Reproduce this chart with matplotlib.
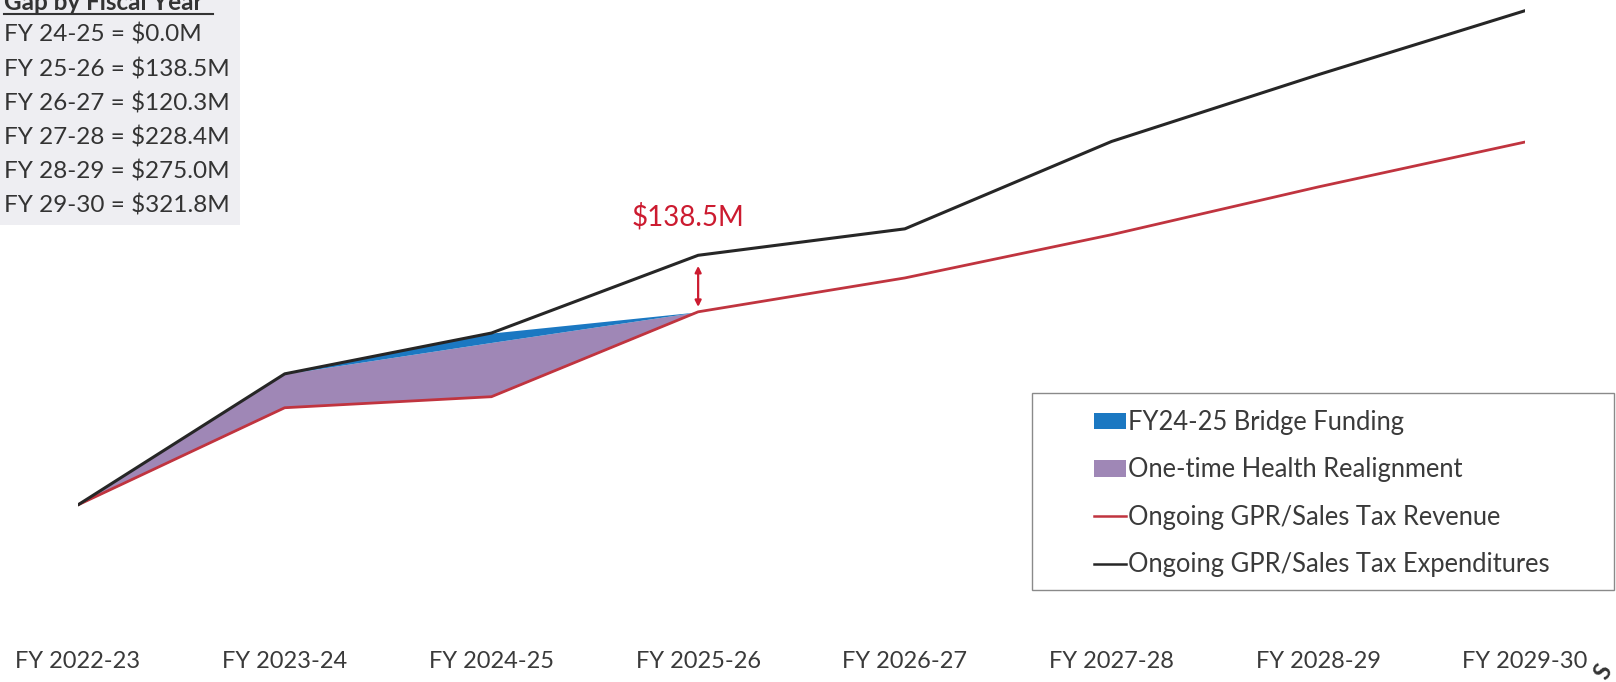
import numpy as np
import matplotlib.pyplot as plt
from matplotlib.patches import Patch, Rectangle
from matplotlib.lines import Line2D

# data ($M)
years = ['FY 2022-23', 'FY 2023-24', 'FY 2024-25', 'FY 2025-26',
         'FY 2026-27', 'FY 2027-28', 'FY 2028-29', 'FY 2029-30']
revenue = [1200, 1438, 1465, 1673, 1756, 1862, 1979, 2089]
expenditures = [1200, 1521, 1621, 1811.5, 1876.3, 2090.4, 2254, 2410.8]
# one-time sources stacked on revenue, FY 2022-23 .. FY 2025-26
health_realignment = [0, 83, 133, 0]
bridge_funding = [0, 0, 23, 0]
gap_labels = ['FY 24-25 = $0.0M', 'FY 25-26 = $138.5M', 'FY 26-27 = $120.3M',
              'FY 27-28 = $228.4M', 'FY 28-29 = $275.0M', 'FY 29-30 = $321.8M']

plt.rcParams['font.family'] = ['Lato', 'DejaVu Sans']

W, H = 1616, 682
fig = plt.figure(figsize=(W / 100, H / 100), dpi=100)
fig.patch.set_facecolor('white')

# axes placed so categories sit at x=78..1525 px
x0, x1 = 78, 1525
ax = fig.add_axes([x0 / W, 0, (x1 - x0) / W, 1])
ax.set_xlim(0, 7)
ax.set_ylim(766, 2437)
ax.axis('off')

x = np.arange(len(years))
n = len(health_realignment)
rev_part = np.array(revenue[:n])
health_top = rev_part + np.array(health_realignment)
bridge_top = health_top + np.array(bridge_funding)

purple = '#9f87b6'
blue = '#1b78c2'
red = '#c0343f'
black = '#262626'

ax.fill_between(x[:n], rev_part, health_top, color=purple, lw=0, zorder=1)
ax.fill_between(x[:n], health_top, bridge_top, color=blue, lw=0, zorder=1)
ax.plot(x, revenue, color=red, lw=2.0, zorder=3, solid_capstyle='round')
ax.plot(x, expenditures, color=black, lw=2.2, zorder=4, solid_capstyle='round')

# gap annotation at FY 2025-26
ann_red = '#cc1b30'
ax.annotate('', xy=(3, revenue[3] + 12), xytext=(3, expenditures[3] - 26),
            arrowprops=dict(arrowstyle='<|-|>', color=ann_red, lw=1.6,
                            mutation_scale=9, shrinkA=0, shrinkB=0))
ax.text(2.95, 1905, '$138.5M', color=ann_red, fontsize=20,
        ha='center', va='center')

# category labels
for i, lab in enumerate(years):
    fig.text((x0 + i * (x1 - x0) / 7) / W, 1 - 661 / H, lab, fontsize=17,
             color='#3a3a3a', ha='center', va='center')

# gap box, top-left
fig.patches.append(Rectangle((0, 1 - 225 / H), 240 / W, 225 / H,
                             transform=fig.transFigure, facecolor='#eeeef2',
                             edgecolor='none', zorder=0))
fig.text(4 / W, 1 - 10 / H, 'Gap by Fiscal Year', fontsize=17.5, fontweight='bold',
         color='#333333', ha='left', va='baseline')
fig.lines.append(Line2D([4 / W, 213 / W], [1 - 13.5 / H, 1 - 13.5 / H],
                        transform=fig.transFigure, color='#333333', lw=1.5))
for i, lab in enumerate(gap_labels):
    fig.text(4 / W, 1 - (35 + i * 34.2) / H, lab, fontsize=17.5, color='#333333',
             ha='left', va='center')

# legend box
fig.patches.append(Rectangle((1032 / W, 1 - 590 / H), (1614 - 1032) / W, 197 / H,
                             transform=fig.transFigure, facecolor='white',
                             edgecolor='#8a8a8a', lw=1.0, zorder=5))
handles = [Patch(facecolor=blue, edgecolor='none'),
           Patch(facecolor=purple, edgecolor='none'),
           Line2D([], [], color=red, lw=1.8),
           Line2D([], [], color=black, lw=1.8)]
labels = ['FY24-25 Bridge Funding', 'One-time Health Realignment',
          'Ongoing GPR/Sales Tax Revenue', 'Ongoing GPR/Sales Tax Expenditures']
leg = fig.legend(handles, labels, loc='upper left',
                 bbox_to_anchor=(1094 / W, 1 - 410 / H), frameon=False,
                 fontsize=18.4, handlelength=1.27, handleheight=0.64,
                 handletextpad=0.05, labelspacing=0.88, borderpad=0,
                 borderaxespad=0)
leg.set_zorder(6)
for t in leg.get_texts():
    t.set_color('#3a3a3a')

# logo fragment in the bottom-right corner
fig.text(1603 / W, 1 - 672 / H, 'S', fontsize=17, fontweight='bold',
         color='#333333', rotation=60, ha='center', va='center')

fig.savefig('out.png', dpi=100)
